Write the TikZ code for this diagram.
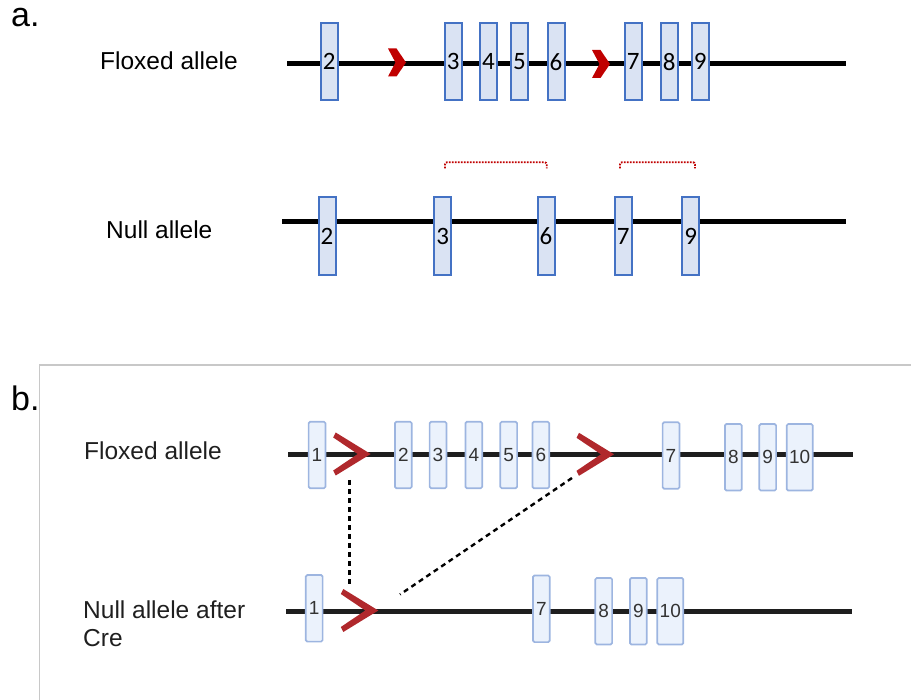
\documentclass[tikz,border=0pt]{standalone}
\usepackage{fontspec}
\setmainfont{Liberation Sans}
\newfontfamily\exonfont{Carlito}
\definecolor{exonblue}{HTML}{4472C4}
\definecolor{exonfill}{HTML}{DAE3F3}
\definecolor{bexonline}{HTML}{9DB5E0}
\definecolor{bexonfill}{HTML}{EBF2FC}
\definecolor{loxred}{HTML}{C00000}
\definecolor{loxredb}{HTML}{B0282C}
\definecolor{dnadark}{HTML}{1E1E1E}
\definecolor{framegray}{HTML}{C8C8C8}
\tikzset{
  exA/.style={draw=exonblue, fill=exonfill, line width=2pt, inner sep=0pt,
    minimum width=17pt, minimum height=77pt,
    font=\exonfont\fontsize{25}{25}\selectfont},
  exB/.style={draw=bexonline, fill=bexonfill, line width=1.7pt, inner sep=0pt,
    rounded corners=1.5pt, minimum width=16.8pt, minimum height=66.6pt,
    text=black!80, font=\fontsize{19}{19}\selectfont},
  dnaA/.style={line width=4.6pt, black},
  dnaB/.style={line width=5pt, dnadark},
  label/.style={inner sep=0pt, font=\fontsize{24.5}{28.4}\selectfont},
  panel/.style={inner sep=0pt, font=\fontsize{34}{34}\selectfont},
  bracket/.style={loxred, line width=1.9pt, dash pattern=on 1.6pt off 1.4pt, rounded corners=2pt},
  linkdash/.style={black, line width=2.4pt, dash pattern=on 5pt off 4pt},
  pics/loxa/.style={code={
    \fill[loxred] (-9,-14) -- (-0.5,-14) -- (9,0) -- (-0.5,14) -- (-9,14) -- (-1.5,0) -- cycle;}},
  pics/loxb/.style={code={
    \fill[loxredb] (0,0) -- (-35,-21.5) -- (-37.5,-16.5) -- (-13,0) -- (-37.5,16.5) -- (-35,21.5) -- cycle;}},
}
\begin{document}
\begin{tikzpicture}[x=1pt, y=-1pt]
\useasboundingbox (0,0) rectangle (911,700);

% ---------------- panel a ----------------
\node[panel, anchor=base west] (pa) at (11,27) {a.};
\node[label, anchor=base west] (fla) at (100,70) {Floxed allele};
\node[label, anchor=base west] (nla) at (106,238.3) {Null allele};

\coordinate (fa-start) at (287,63.3);
\coordinate (fa-end) at (846,63.3);
\draw[dnaA] (fa-start) -- (fa-end);
\pic at (397,62.5) {loxa};
\pic at (601,64) {loxa};
\foreach \n/\x in {2/329.2, 3/453.2, 4/488.5, 5/519.5, 6/556, 7/633.3, 8/669.2, 9/700.2}
  \node[exA] (fa\n) at (\x,61.8) {\n};

\coordinate (na-start) at (282,221.7);
\coordinate (na-end) at (846,221.7);
\draw[dnaA] (na-start) -- (na-end);
\foreach \n/\x in {2/327, 3/442.8, 6/546, 7/623.3, 9/690.7}
  \node[exA, minimum height=78pt] (na\n) at (\x,236) {\n};

% excised-region brackets
\draw[bracket] (445,168.3) -- (445,162.3) -- (546.7,162.3) -- (546.7,168.3);
\draw[bracket] (620,168.3) -- (620,162.3) -- (695,162.3) -- (695,168.3);

% ---------------- panel b ----------------
\draw[framegray, line width=1.2pt] (39.5,700) -- (39.5,365) -- (911,365);
\node[panel, anchor=base west] (pb) at (11,411) {b.};
\node[label, anchor=base west, text=black!88] (flb) at (84,460) {Floxed allele};
\node[label, anchor=north west, align=left, text=black!88] (nlb) at (83,600.5) {Null allele after\\Cre};

\coordinate (fb-start) at (288,454.5);
\coordinate (fb-end) at (853,454.5);
\draw[dnaB] (fb-start) -- (fb-end);
\pic at (370.7,454) {loxb};
\pic at (614,454.3) {loxb};
\foreach \n/\x/\y in {1/317/455, 2/403.3/455, 3/438/455, 4/473.8/455, 5/508.7/455,
    6/540.8/455, 7/671/455.5, 8/733.3/457.3, 9/767.7/457.3}
  \node[exB] (fb\n) at (\x,\y) {\n};
\node[exB, minimum width=26pt] (fb10) at (799.7,457.3) {10};

\coordinate (nb-start) at (286,611);
\coordinate (nb-end) at (852,611);
\draw[dnaB] (nb-start) -- (nb-end);
\pic at (378.3,610.5) {loxb};
\foreach \n/\x/\y in {1/314.2/608.3, 7/541.3/608.8, 8/603.7/611.2, 9/638.3/611.2}
  \node[exB] (nb\n) at (\x,\y) {\n};
\node[exB, minimum width=26pt] (nb10) at (670.3,611.2) {10};

% recombination links between the loxP sites
\coordinate (lox1-top) at (349.5,480);
\coordinate (lox1-bot) at (349.5,583.5);
\coordinate (lox2-top) at (572,478);
\coordinate (lox2-bot) at (400,594.5);
\draw[linkdash] (lox1-top) -- (lox1-bot);
\draw[linkdash] (lox2-top) -- (lox2-bot);
\end{tikzpicture}
\end{document}
